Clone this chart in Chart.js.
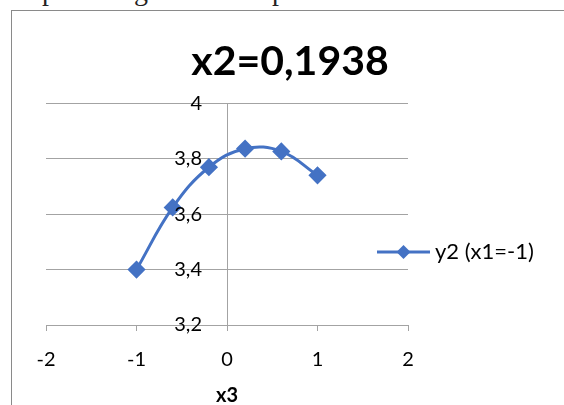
<!DOCTYPE html>
<html>
<head>
<meta charset="utf-8">
<script src="https://cdn.jsdelivr.net/npm/chart.js@4.4.1/dist/chart.umd.min.js"></script>
<style>
    html, body { margin: 0; padding: 0; background: #fff; }
    body { width: 564px; height: 405px; overflow: hidden; position: relative; }
    .frag { position: absolute; top: -25px; font-family: "Liberation Serif", serif; font-size: 28px; color: #222; }
    .box { position: absolute; left: 11px; top: 10px; width: 600px; height: 420px;
           border-left: 1px solid #8a8a8a; border-top: 1px solid #8a8a8a; }
    #chart { position: absolute; left: 12px; top: 11px; }
</style>
</head>
<body>
<span class="frag" style="left:42px">p</span>
<span class="frag" style="left:134px">g</span>
<span class="frag" style="left:272px">p</span>
<div class="box"></div>
<canvas id="chart" width="556" height="394"></canvas>
<script>
const chartTitle = 'x2=0,1938';
const seriesName = 'y2 (x1=-1)';
const xTitle = 'x3';
const x3Values = [-1, -0.6, -0.2, 0.2, 0.6, 1];
const y2Values = [3.4, 3.624, 3.769, 3.836, 3.826, 3.74];
const xTickLabels = ['-2', '-1', '0', '1', '2'];
const yTickLabels = ['3,2', '3,4', '3,6', '3,8', '4'];

const lineColor = '#4472C4';
const gridColor = '#a3a3a3';
const fontFamily = 'Lato, "Open Sans", sans-serif';

// title over the whole canvas, y labels next to the axis at x=0, legend over the plot edge
const excelBits = {
    id: 'excelBits',
    afterLayout(chart) {
        chart.titleBlock.left = 0;
        chart.titleBlock.right = chart.width;
    },
    afterDraw(chart) {
        const { ctx, chartArea, scales } = chart;
        const ds = chart.data.datasets[0];
        const axisX = scales.x.getPixelForValue(0);

        ctx.save();
        ctx.fillStyle = '#000';
        ctx.font = '20px ' + fontFamily;
        ctx.textBaseline = 'middle';
        ctx.textAlign = 'right';
        scales.y.ticks.forEach((t, i) => {
            ctx.fillText(yTickLabels[i], axisX - 25, scales.y.getPixelForValue(t.value));
        });

        const y = chartArea.bottom - 73;
        const x0 = chartArea.right - 31;
        const x1 = chartArea.right + 22;
        ctx.strokeStyle = ds.borderColor;
        ctx.lineWidth = 3;
        ctx.beginPath();
        ctx.moveTo(x0, y);
        ctx.lineTo(x1, y);
        ctx.stroke();
        const cx = (x0 + x1) / 2, r = 7;
        ctx.fillStyle = ds.backgroundColor;
        ctx.beginPath();
        ctx.moveTo(cx, y - r);
        ctx.lineTo(cx + r, y);
        ctx.lineTo(cx, y + r);
        ctx.lineTo(cx - r, y);
        ctx.closePath();
        ctx.fill();
        ctx.fillStyle = '#000';
        ctx.font = '22px ' + fontFamily;
        ctx.textAlign = 'left';
        ctx.fillText(ds.label, x1 + 5, y);
        ctx.restore();
    }
};

new Chart(document.getElementById('chart'), {
    type: 'scatter',
    data: {
        datasets: [{
            label: seriesName,
            data: x3Values.map((x, i) => ({ x: x, y: y2Values[i] })),
            showLine: true,
            tension: 0.4,
            borderColor: lineColor,
            backgroundColor: lineColor,
            borderWidth: 3,
            pointStyle: 'rectRot',
            pointRadius: 7,
            pointHoverRadius: 7
        }]
    },
    options: {
        responsive: false,
        animation: false,
        events: [],
        layout: { padding: { left: 34, right: 160, top: 0, bottom: 0 } },
        plugins: {
            legend: { display: false },
            tooltip: { enabled: false },
            title: {
                display: true,
                text: chartTitle,
                color: '#000',
                font: { family: fontFamily, size: 41, weight: 'bold' },
                padding: { top: 26, bottom: 17 }
            }
        },
        scales: {
            x: {
                type: 'linear',
                min: -2,
                max: 2,
                afterFit: (scale) => { scale.height = 80; },
                ticks: {
                    stepSize: 1,
                    color: '#000',
                    padding: 18,
                    font: { family: fontFamily, size: 20, lineHeight: 1.1 },
                    callback: (v, i) => xTickLabels[i]
                },
                grid: { drawOnChartArea: false, drawTicks: true, tickLength: 6, color: gridColor },
                border: { color: gridColor },
                title: {
                    display: true,
                    text: xTitle,
                    color: '#000',
                    font: { family: fontFamily, size: 20, weight: 'bold', lineHeight: 0.9 },
                    padding: { top: 0, bottom: 0 }
                }
            },
            y: {
                type: 'linear',
                position: { x: 0 },
                min: 3.2,
                max: 4,
                ticks: {
                    stepSize: 0.2,
                    display: false
                },
                grid: { color: gridColor, tickLength: 8 },
                border: { color: gridColor }
            }
        }
    },
    plugins: [excelBits]
});
</script>
</body>
</html>
